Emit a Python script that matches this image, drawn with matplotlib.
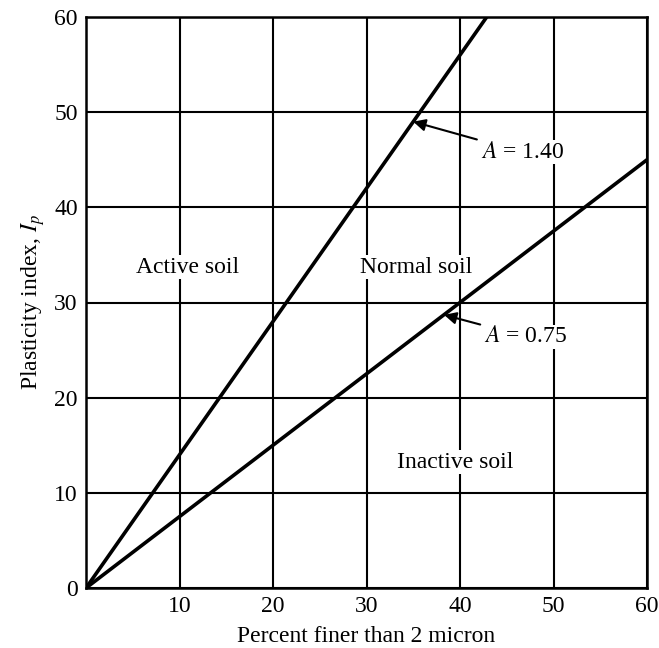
import numpy as np
import matplotlib.pyplot as plt

plt.rcParams['font.family'] = ['Liberation Serif', 'DejaVu Serif']
plt.rcParams['mathtext.fontset'] = 'stix'

# activity lines  Ip = A * percent finer
activity = [1.40, 0.75]
x_end = [60 / 1.40, 60]
x_ticks = [10, 20, 30, 40, 50, 60]
y_ticks = [0, 10, 20, 30, 40, 50, 60]

zones = ["Active soil", "Normal soil", "Inactive soil"]
zone_xy = [(10.9, 33.7), (35.3, 33.7), (39.5, 13.2)]

arrow_tip = [(35.0, 49.0), (38.3, 28.7)]
arrow_txt = [(42.2, 45.8), (42.6, 26.4)]

fig = plt.figure(figsize=(6.59, 6.48), dpi=100)
ax = fig.add_axes([86 / 659, 60 / 648, 561 / 659, 571 / 648])

for a, xe in zip(activity, x_end):
    xs = np.array([0, xe])
    ax.plot(xs, a * xs, color='black', lw=2.6, solid_capstyle='butt', zorder=3)

ax.set_xlim(0, 60)
ax.set_ylim(0, 60)
ax.set_xticks(x_ticks)
ax.set_yticks(y_ticks)
ax.grid(True, color='black', lw=1.5)
ax.tick_params(length=0, labelsize=17, pad=6)
for s in ax.spines.values():
    s.set_linewidth(1.8)

for name, (x, y) in zip(zones, zone_xy):
    ax.text(x, y, name, fontsize=17, ha='center', va='center',
            bbox=dict(facecolor='white', edgecolor='none', pad=1))

for a, tip, txt in zip(activity, arrow_tip, arrow_txt):
    ax.annotate(r'$A$ = %.2f' % a, xy=tip, xytext=txt, fontsize=17,
                ha='left', va='center',
                arrowprops=dict(arrowstyle='-|>', color='black', lw=1.5,
                                mutation_scale=18, shrinkA=2, shrinkB=0),
                bbox=dict(facecolor='white', edgecolor='none', pad=1))

ax.set_xlabel('Percent finer than 2 micron', fontsize=17, labelpad=6)
ax.set_ylabel(r'Plasticity index, $I_p$', fontsize=17, labelpad=5)

fig.savefig('out.png', dpi=100)
